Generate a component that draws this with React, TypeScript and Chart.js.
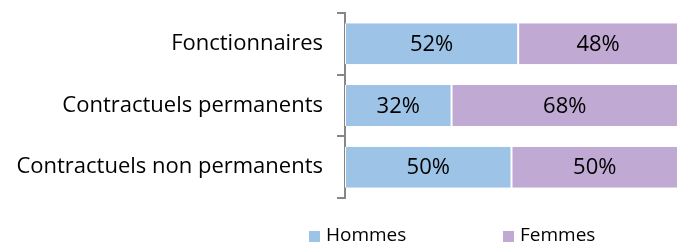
import React, { useEffect, useRef } from "react";
import { Chart, registerables } from "chart.js";

Chart.register(...registerables);

const categories = ["Fonctionnaires", "Contractuels permanents", "Contractuels non permanents"];
const hommes = [52, 32, 50];
const femmes = [48, 68, 50];
const seriesNames = ["Hommes", "Femmes"];
const seriesColors = ["#9DC3E6", "#C0A9D3"];

const FONT = "'Open Sans', 'Noto Sans', sans-serif";

const dataLabelPlugin = {
  id: "dataLabels",
  afterDatasetsDraw(chart: any) {
    const ctx = chart.ctx;
    ctx.save();
    ctx.font = `22px ${FONT}`;
    ctx.fillStyle = "#000000";
    ctx.textAlign = "center";
    ctx.textBaseline = "middle";
    chart.data.datasets.forEach((ds: any, di: number) => {
      const meta = chart.getDatasetMeta(di);
      meta.data.forEach((bar: any, i: number) => {
        const x = (bar.x + bar.base) / 2;
        ctx.fillText(`${ds.data[i]}%`, x, bar.y + 1);
      });
    });
    ctx.restore();
  },
};

const legendPlugin = {
  id: "customLegend",
  afterDraw(chart: any) {
    const ctx = chart.ctx;
    ctx.save();
    ctx.font = `19px ${FONT}`;
    ctx.textBaseline = "middle";
    ctx.textAlign = "left";
    const y = 236;
    const starts = [309, 503];
    seriesNames.forEach((name, i) => {
      const x = starts[i];
      ctx.fillStyle = seriesColors[i];
      ctx.fillRect(x, y - 5, 11, 11);
      ctx.fillStyle = "#000000";
      ctx.fillText(name, x + 17, y);
    });
    ctx.restore();
  },
};

export default function App() {
  const ref = useRef<HTMLCanvasElement>(null);
  useEffect(() => {
    if (!ref.current) return;
    const chart = new Chart(ref.current, {
      type: "bar",
      data: {
        labels: categories,
        datasets: [
          {
            label: seriesNames[0],
            data: hommes,
            backgroundColor: seriesColors[0],
            borderColor: "#FFFFFF",
            borderWidth: { left: 1, right: 1, top: 0, bottom: 0 },
            borderSkipped: false,
          },
          {
            label: seriesNames[1],
            data: femmes,
            backgroundColor: seriesColors[1],
            borderColor: "#FFFFFF",
            borderWidth: { left: 1, right: 1, top: 0, bottom: 0 },
            borderSkipped: false,
          },
        ],
      },
      options: {
        indexAxis: "y",
        animation: false,
        responsive: false,
        maintainAspectRatio: false,
        layout: { padding: { top: 13, right: 8, bottom: 46, left: 0 } },
        datasets: {
          bar: { categoryPercentage: 1, barPercentage: 0.665 },
        },
        plugins: {
          legend: { display: false },
          tooltip: { enabled: false },
        },
        scales: {
          x: {
            stacked: true,
            min: 0,
            max: 100,
            display: false,
          },
          y: {
            stacked: true,
            afterFit(scale: any) {
              scale.width = 345;
              scale.paddingTop = 0;
              scale.paddingBottom = 0;
            },
            grid: {
              display: true,
              drawOnChartArea: false,
              drawTicks: true,
              tickLength: 8,
              color: "#868686",
              lineWidth: 2,
              offset: true,
            },
            border: { display: true, color: "#868686", width: 2 },
            ticks: {
              font: { family: FONT, size: 22 },
              color: "#000000",
              padding: 14,
            },
          },
        },
      },
      plugins: [dataLabelPlugin, legendPlugin],
    } as any);
    return () => chart.destroy();
  }, []);
  return (
    <div style={{ position: "fixed", left: 0, top: 0, width: 686, height: 244, background: "#fff" }}>
      <canvas ref={ref} width={686} height={244} style={{ display: "block" }} />
    </div>
  );
}
